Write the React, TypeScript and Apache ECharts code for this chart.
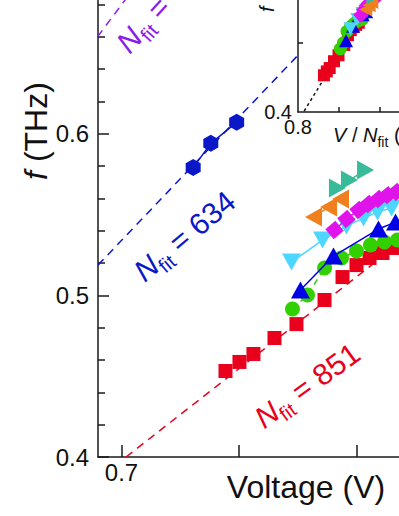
import React, { useEffect, useRef } from 'react';
import * as echarts from 'echarts';

const FONT = '"Liberation Sans", Arial, Helvetica, sans-serif';
const K = 483.6; // THz per volt (2e/h)

// Canvas is larger than the window and shifted up, so axes can run past the edges
const OFF_Y = 40;
const CW = 440;
const CH = 516 + OFF_Y;

// Fit values of N
const N_PURPLE = 498;
const N_HEX = 634;
const N_RED = 851;
const N_GREEN = 840;
const N_BLUE = 824;
const N_CYAN = 800;
const N_MAGENTA = 796;
const N_ORANGE = 764;
const N_TEAL = 758;

// Main-panel data: voltage (V) and frequency (THz)
const hexV = [0.761, 0.776, 0.798];
const hexF = [0.579, 0.594, 0.607];

const redV = [0.7885, 0.8004, 0.8123, 0.8302, 0.8489, 0.8728, 0.8881, 0.9, 0.9111, 0.9221, 0.9332];
const redF = [0.4532, 0.4588, 0.4637, 0.4736, 0.4822, 0.4971, 0.5113, 0.5187, 0.5231, 0.5262, 0.5293];

const greenV = [0.8455, 0.8583, 0.8728, 0.8872, 0.9, 0.9119, 0.9238, 0.9349];
const greenF = [0.4915, 0.5002, 0.5169, 0.5231, 0.5274, 0.5311, 0.533, 0.5342];

const blueV = [0.8523, 0.8804, 0.9187, 0.9332];
const blueF = [0.5033, 0.5243, 0.541, 0.5453];

const cyanV = [0.8447, 0.8711, 0.8915, 0.906, 0.9179, 0.9298];
const cyanF = [0.5206, 0.5342, 0.5429, 0.5478, 0.5515, 0.554];

const magentaV = [0.8813, 0.8915, 0.9017, 0.9102, 0.9187, 0.9264, 0.934];
const magentaF = [0.5404, 0.5472, 0.5528, 0.5565, 0.5596, 0.562, 0.5639];

const orangeV = [0.8634, 0.8762, 0.8864];
const orangeF = [0.5484, 0.5546, 0.5596];

const tealV = [0.8838, 0.894, 0.9077];
const tealF = [0.5664, 0.5713, 0.5775];

// Tick values
const mainXTicks = [0.7, 0.8, 0.9];
const mainXLabels = [0.7];
const insetXTicks = [1.0, 1.2];
const insetXLabels = [0.8];
const insetYTicks = [0.5];
const insetYLabels = [0.4];

const C = {
  purple: '#8a1ee6',
  hex: '#0a18c8',
  red: '#e8001c',
  green: '#33d000',
  blue: '#0000e6',
  cyan: '#4dd6ff',
  magenta: '#e014ea',
  orange: '#f0801e',
  teal: '#38bb98',
  axis: '#1a1a1a',
};

const HEX_PATH = 'path://M0,-1L0.866,-0.5L0.866,0.5L0,1L-0.866,0.5L-0.866,-0.5Z';

type Part = { t: string; size: number; italic?: boolean; dy?: number };

function measure(ctx: CanvasRenderingContext2D, p: Part) {
  ctx.font = `${p.italic ? 'italic ' : ''}${p.size}px ${FONT}`;
  return ctx.measureText(p.t).width;
}

function richGroup(
  ctx: CanvasRenderingContext2D,
  parts: Part[],
  x: number,
  y: number,
  rotDeg: number,
  color: string,
  align: 'left' | 'center'
) {
  const widths = parts.map((p) => measure(ctx, p));
  const total = widths.reduce((a, b) => a + b, 0);
  let cx = align === 'center' ? -total / 2 : 0;
  const children = parts.map((p, i) => {
    const el = {
      type: 'text',
      x: cx,
      y: p.dy || 0,
      style: {
        text: p.t,
        fontSize: p.size,
        fontStyle: p.italic ? 'italic' : 'normal',
        fontFamily: FONT,
        fill: color,
        align: 'left',
        verticalAlign: 'middle',
      },
    };
    cx += widths[i];
    return el;
  });
  return { type: 'group', x, y: y + OFF_Y, rotation: (rotDeg * Math.PI) / 180, silent: true, children };
}

function fitLine(N: number, v0: number, v1: number, color: string, z: number) {
  return {
    type: 'line',
    xAxisIndex: 0,
    yAxisIndex: 0,
    data: [
      [v0, (K * v0) / N],
      [v1, (K * v1) / N],
    ],
    symbol: 'none',
    lineStyle: { color, width: 1.5, type: [8, 6] },
    z,
    silent: true,
  };
}

function pts(V: number[], F: number[]) {
  return V.map((v, i) => [v, F[i]]);
}

function ptsInset(V: number[], F: number[], N: number) {
  return V.map((v, i) => [(v / N) * 1000, F[i]]);
}

type SeriesDef = {
  V: number[];
  F: number[];
  N: number;
  color: string;
  symbol: string;
  size: number | number[];
  insetSize: number | number[];
  rotate: number;
  line: 'solid' | 'dashed' | 'none';
};

const defs: SeriesDef[] = [
  { V: redV, F: redF, N: N_RED, color: C.red, symbol: 'rect', size: 14, insetSize: 12, rotate: 0, line: 'none' },
  { V: greenV, F: greenF, N: N_GREEN, color: C.green, symbol: 'circle', size: 15, insetSize: 13, rotate: 0, line: 'dashed' },
  { V: blueV, F: blueF, N: N_BLUE, color: C.blue, symbol: 'triangle', size: [19, 17], insetSize: [14, 13], rotate: 0, line: 'solid' },
  { V: cyanV, F: cyanF, N: N_CYAN, color: C.cyan, symbol: 'triangle', size: [19, 17], insetSize: [14, 13], rotate: 180, line: 'solid' },
  { V: magentaV, F: magentaF, N: N_MAGENTA, color: C.magenta, symbol: 'rect', size: 13, insetSize: 11, rotate: 40, line: 'solid' },
  { V: orangeV, F: orangeF, N: N_ORANGE, color: C.orange, symbol: 'triangle', size: [19, 17], insetSize: [14, 13], rotate: 90, line: 'solid' },
  { V: tealV, F: tealF, N: N_TEAL, color: C.teal, symbol: 'triangle', size: [19, 17], insetSize: [14, 13], rotate: -90, line: 'solid' },
];

export default function App() {
  const ref = useRef<HTMLDivElement>(null);

  useEffect(() => {
    if (!ref.current) return;
    const chart = echarts.init(ref.current, null, { renderer: 'svg' });
    const canvas = document.createElement('canvas');
    const ctx = canvas.getContext('2d') as CanvasRenderingContext2D;

    const mainSeries: any[] = [];
    const insetSeries: any[] = [];

    mainSeries.push(fitLine(N_PURPLE, 0.6796, 0.74, C.purple, 2));
    mainSeries.push(fitLine(N_HEX, 0.68, 0.8498, C.hex, 2));
    mainSeries.push(fitLine(N_RED, (0.4 * N_RED) / K, 0.95, C.red, 2));
    mainSeries.push({
      type: 'line',
      xAxisIndex: 0,
      yAxisIndex: 0,
      data: pts(hexV, hexF),
      symbol: HEX_PATH,
      symbolSize: [15, 17],
      itemStyle: { color: C.hex },
      lineStyle: { color: C.hex, width: 1.5 },
      z: 3,
    });

    defs.forEach((d, i) => {
      mainSeries.push({
        type: 'line',
        xAxisIndex: 0,
        yAxisIndex: 0,
        data: pts(d.V, d.F),
        symbol: d.symbol,
        symbolSize: d.size,
        symbolRotate: d.rotate,
        itemStyle: { color: d.color },
        lineStyle:
          d.line === 'none'
            ? { width: 0, opacity: 0 }
            : { color: d.color, width: 1.5, type: d.line === 'dashed' ? [6, 5] : 'solid' },
        z: 3 + i,
      });
      insetSeries.push({
        type: 'line',
        xAxisIndex: 1,
        yAxisIndex: 1,
        data: ptsInset(d.V, d.F, d.N),
        symbol: d.symbol,
        symbolSize: d.insetSize,
        symbolRotate: d.rotate,
        itemStyle: { color: d.color },
        lineStyle: { width: 0, opacity: 0 },
        z: 20 + i,
      });
    });
    insetSeries.push({
      type: 'line',
      xAxisIndex: 1,
      yAxisIndex: 1,
      data: ptsInset(hexV, hexF, N_HEX),
      symbol: HEX_PATH,
      symbolSize: [11, 12],
      itemStyle: { color: C.hex },
      lineStyle: { width: 0, opacity: 0 },
      z: 28,
    });
    insetSeries.push({
      type: 'line',
      xAxisIndex: 1,
      yAxisIndex: 1,
      data: [
        [0.83, (K / 1000) * 0.83],
        [1.25, (K / 1000) * 1.25],
      ],
      symbol: 'none',
      lineStyle: { color: '#111', width: 1.5, type: [3, 3] },
      z: 19,
      silent: true,
    });

    const axisLine = { show: true, onZero: false, lineStyle: { color: C.axis, width: 1.5 } };
    const tickStyle = { color: C.axis, width: 1.5 };
    const fmt = (v: number) => v.toFixed(1);

    const graphic: any[] = [
      {
        type: 'text',
        x: 306,
        y: 487 + OFF_Y,
        silent: true,
        style: {
          text: 'Voltage (V)',
          fontSize: 32,
          fontFamily: FONT,
          fill: '#111',
          align: 'center',
          verticalAlign: 'middle',
        },
      },
      richGroup(ctx, [{ t: 'f', size: 32, italic: true }, { t: ' (THz)', size: 32 }], 36, 131, 90, '#111', 'center'),
      richGroup(
        ctx,
        [
          { t: 'N', size: 30, italic: true },
          { t: 'fit', size: 20, dy: 10 },
          { t: ' = 634', size: 30 },
        ],
        138,
        275,
        40,
        C.hex,
        'left'
      ),
      richGroup(
        ctx,
        [
          { t: 'N', size: 30, italic: true },
          { t: 'fit', size: 20, dy: 10 },
          { t: ' = 851', size: 30 },
        ],
        258,
        421,
        36,
        C.red,
        'left'
      ),
      richGroup(
        ctx,
        [
          { t: 'N', size: 30, italic: true },
          { t: 'fit', size: 20, dy: 10 },
          { t: ' = 498', size: 30 },
        ],
        122,
        48,
        48,
        C.purple,
        'left'
      ),
      richGroup(
        ctx,
        [
          { t: 'V', size: 20, italic: true },
          { t: ' / ', size: 20 },
          { t: 'N', size: 20, italic: true },
          { t: 'fit', size: 14, dy: 7 },
          { t: ' (mV)', size: 20 },
        ],
        333,
        135,
        0,
        '#111',
        'left'
      ),
      richGroup(ctx, [{ t: 'f', size: 20, italic: true }, { t: ' (THz)', size: 20 }], 267, 12, 90, '#111', 'left'),
    ];

    const option: any = {
      animation: false,
      backgroundColor: '#ffffff',
      grid: [
        { left: 98, top: -28 + OFF_Y, width: 305.5, height: 485, containLabel: false },
        { left: 298, top: -26 + OFF_Y, width: 123, height: 138, containLabel: false },
      ],
      xAxis: [
        {
          type: 'value',
          gridIndex: 0,
          min: 0.68,
          max: 0.94,
          axisLine,
          axisTick: { show: true, inside: true, length: 12, customValues: mainXTicks, lineStyle: tickStyle },
          axisLabel: {
            show: true,
            customValues: mainXLabels,
            fontSize: 24,
            color: '#111',
            fontFamily: FONT,
            margin: 3,
            formatter: fmt,
          },
          splitLine: { show: false },
        },
        {
          type: 'value',
          gridIndex: 1,
          min: 0.8,
          max: 1.4,
          axisLine,
          axisTick: { show: true, inside: true, length: 5, customValues: insetXTicks, lineStyle: tickStyle },
          axisLabel: {
            show: true,
            customValues: insetXLabels,
            fontSize: 20,
            color: '#111',
            fontFamily: FONT,
            margin: 5,
            formatter: fmt,
          },
          splitLine: { show: false },
        },
      ],
      yAxis: [
        {
          type: 'value',
          gridIndex: 0,
          min: 0.4,
          max: 0.7,
          interval: 0.1,
          axisLine,
          axisTick: { show: true, inside: true, length: 11, lineStyle: tickStyle },
          minorTick: { show: true, splitNumber: 5, length: 7, lineStyle: tickStyle },
          axisLabel: {
            show: true,
            fontSize: 24,
            color: '#111',
            fontFamily: FONT,
            margin: 9,
            formatter: (v: number) => (v > 0.65 ? '' : v.toFixed(1)),
          },
          splitLine: { show: false },
          minorSplitLine: { show: false },
        },
        {
          type: 'value',
          gridIndex: 1,
          min: 0.4,
          max: 0.6,
          axisLine,
          axisTick: { show: true, inside: true, length: 5, customValues: insetYTicks, lineStyle: tickStyle },
          axisLabel: {
            show: true,
            customValues: insetYLabels,
            fontSize: 20,
            color: '#111',
            fontFamily: FONT,
            margin: 6,
            formatter: fmt,
          },
          splitLine: { show: false },
        },
      ],
      series: [...mainSeries, ...insetSeries],
      graphic,
    };

    chart.setOption(option);
    return () => chart.dispose();
  }, []);

  return (
    <div
      ref={ref}
      style={{ position: 'fixed', left: 0, top: -OFF_Y, width: CW, height: CH, background: '#fff' }}
    />
  );
}
